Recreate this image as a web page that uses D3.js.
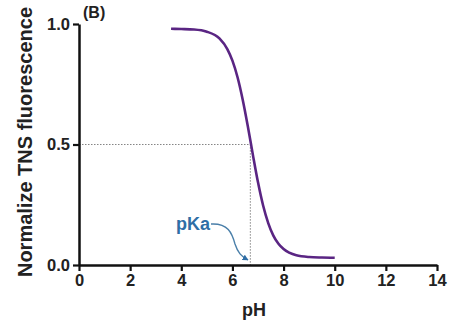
<!DOCTYPE html>
<html><head><meta charset="utf-8">
<script src="https://cdn.jsdelivr.net/npm/d3@7"></script>
<style>body{margin:0;background:#fff}svg{display:block}text{font-family:"Liberation Sans",Arial,sans-serif;font-weight:bold}</style>
</head><body>
<svg id="c" width="465" height="329"></svg>
<script>
const phValues = [3.6,4.0,4.5,5.0,5.5,5.8,6.0,6.2,6.4,6.6,6.8,7.0,7.2,7.4,7.6,7.8,8.0,8.5,9.0,9.5,10.0];
const fluorescence = [0.980,0.979,0.977,0.968,0.939,0.896,0.848,0.779,0.687,0.577,0.457,0.343,0.247,0.174,0.122,0.088,0.066,0.040,0.033,0.031,0.030];
const xTicks = [0,2,4,6,8,10,12,14];
const yTicks = [0,0.5,1.0];
const pKa = 6.7;
const panelLabel = "(B)";
const xLabel = "pH";
const yLabel = "Normalize TNS fluorescence";

const svg = d3.select("#c");
const x = d3.scaleLinear().domain([0,14]).range([79,437]);
const y = d3.scaleLinear().domain([0,1]).range([265,24]);

svg.append("path")
  .attr("d", `M${x(0)},${y(0.5)}H${x(pKa)}V${y(0)}`)
  .attr("fill","none").attr("stroke","#777").attr("stroke-width",0.9)
  .attr("stroke-dasharray","1.5,1.5");

const data = phValues.map((p,i)=>[p,fluorescence[i]]);
svg.append("path").datum(data)
  .attr("d", d3.line().x(d=>x(d[0])).y(d=>y(d[1])).curve(d3.curveMonotoneX))
  .attr("fill","none").attr("stroke","#5a2583").attr("stroke-width",2.6);

const xAxis = svg.append("g").attr("transform",`translate(0,${y(0)})`)
  .call(d3.axisBottom(x).tickValues(xTicks).tickFormat(d3.format("d")).tickSize(6).tickSizeOuter(0));
const yAxis = svg.append("g").attr("transform",`translate(${x(0)},0)`)
  .call(d3.axisLeft(y).tickValues(yTicks).tickFormat(d3.format(".1f")).tickSize(6).tickSizeOuter(0));
[xAxis,yAxis].forEach(g=>{
  g.select(".domain").attr("stroke","#111").attr("stroke-width",2.5);
  g.selectAll(".tick line").attr("stroke","#111").attr("stroke-width",2.2);
  g.selectAll(".tick text").attr("fill","#222").style("font-size","16.5px").style("font-family",'"Liberation Sans",Arial,sans-serif').style("font-weight","bold");
});
xAxis.selectAll(".tick text").attr("dy","0.92em").attr("y",6);
yAxis.selectAll(".tick text").attr("x",-9);

svg.append("text").attr("x",254).attr("y",316).attr("text-anchor","middle")
  .style("font-size","18px").attr("fill","#222").text(xLabel);
svg.append("text").attr("transform","translate(32,142) rotate(-90)").attr("text-anchor","middle")
  .style("font-size","20px").attr("fill","#222").text(yLabel);
svg.append("text").attr("x",83).attr("y",18).style("font-size","16px").attr("fill","#222").text(panelLabel);

svg.append("defs").append("marker").attr("id","ah").attr("viewBox","0 0 10 10")
  .attr("refX",9).attr("refY",5).attr("markerWidth",6).attr("markerHeight",6).attr("markerUnits","userSpaceOnUse")
  .attr("orient","auto").append("path").attr("d","M0,0L10,5L0,10z").attr("fill","#2f6ea6");
svg.append("path").attr("d","M211,224 C228,223 232,233 235,244 C238,253 241,256 248,260")
  .attr("fill","none").attr("stroke","#4a7fa9").attr("stroke-width",1.4).attr("marker-end","url(#ah)");
svg.append("text").attr("x",176).attr("y",230).style("font-size","18px").attr("fill","#2f6ea6").text("pKa");
</script>
</body></html>
